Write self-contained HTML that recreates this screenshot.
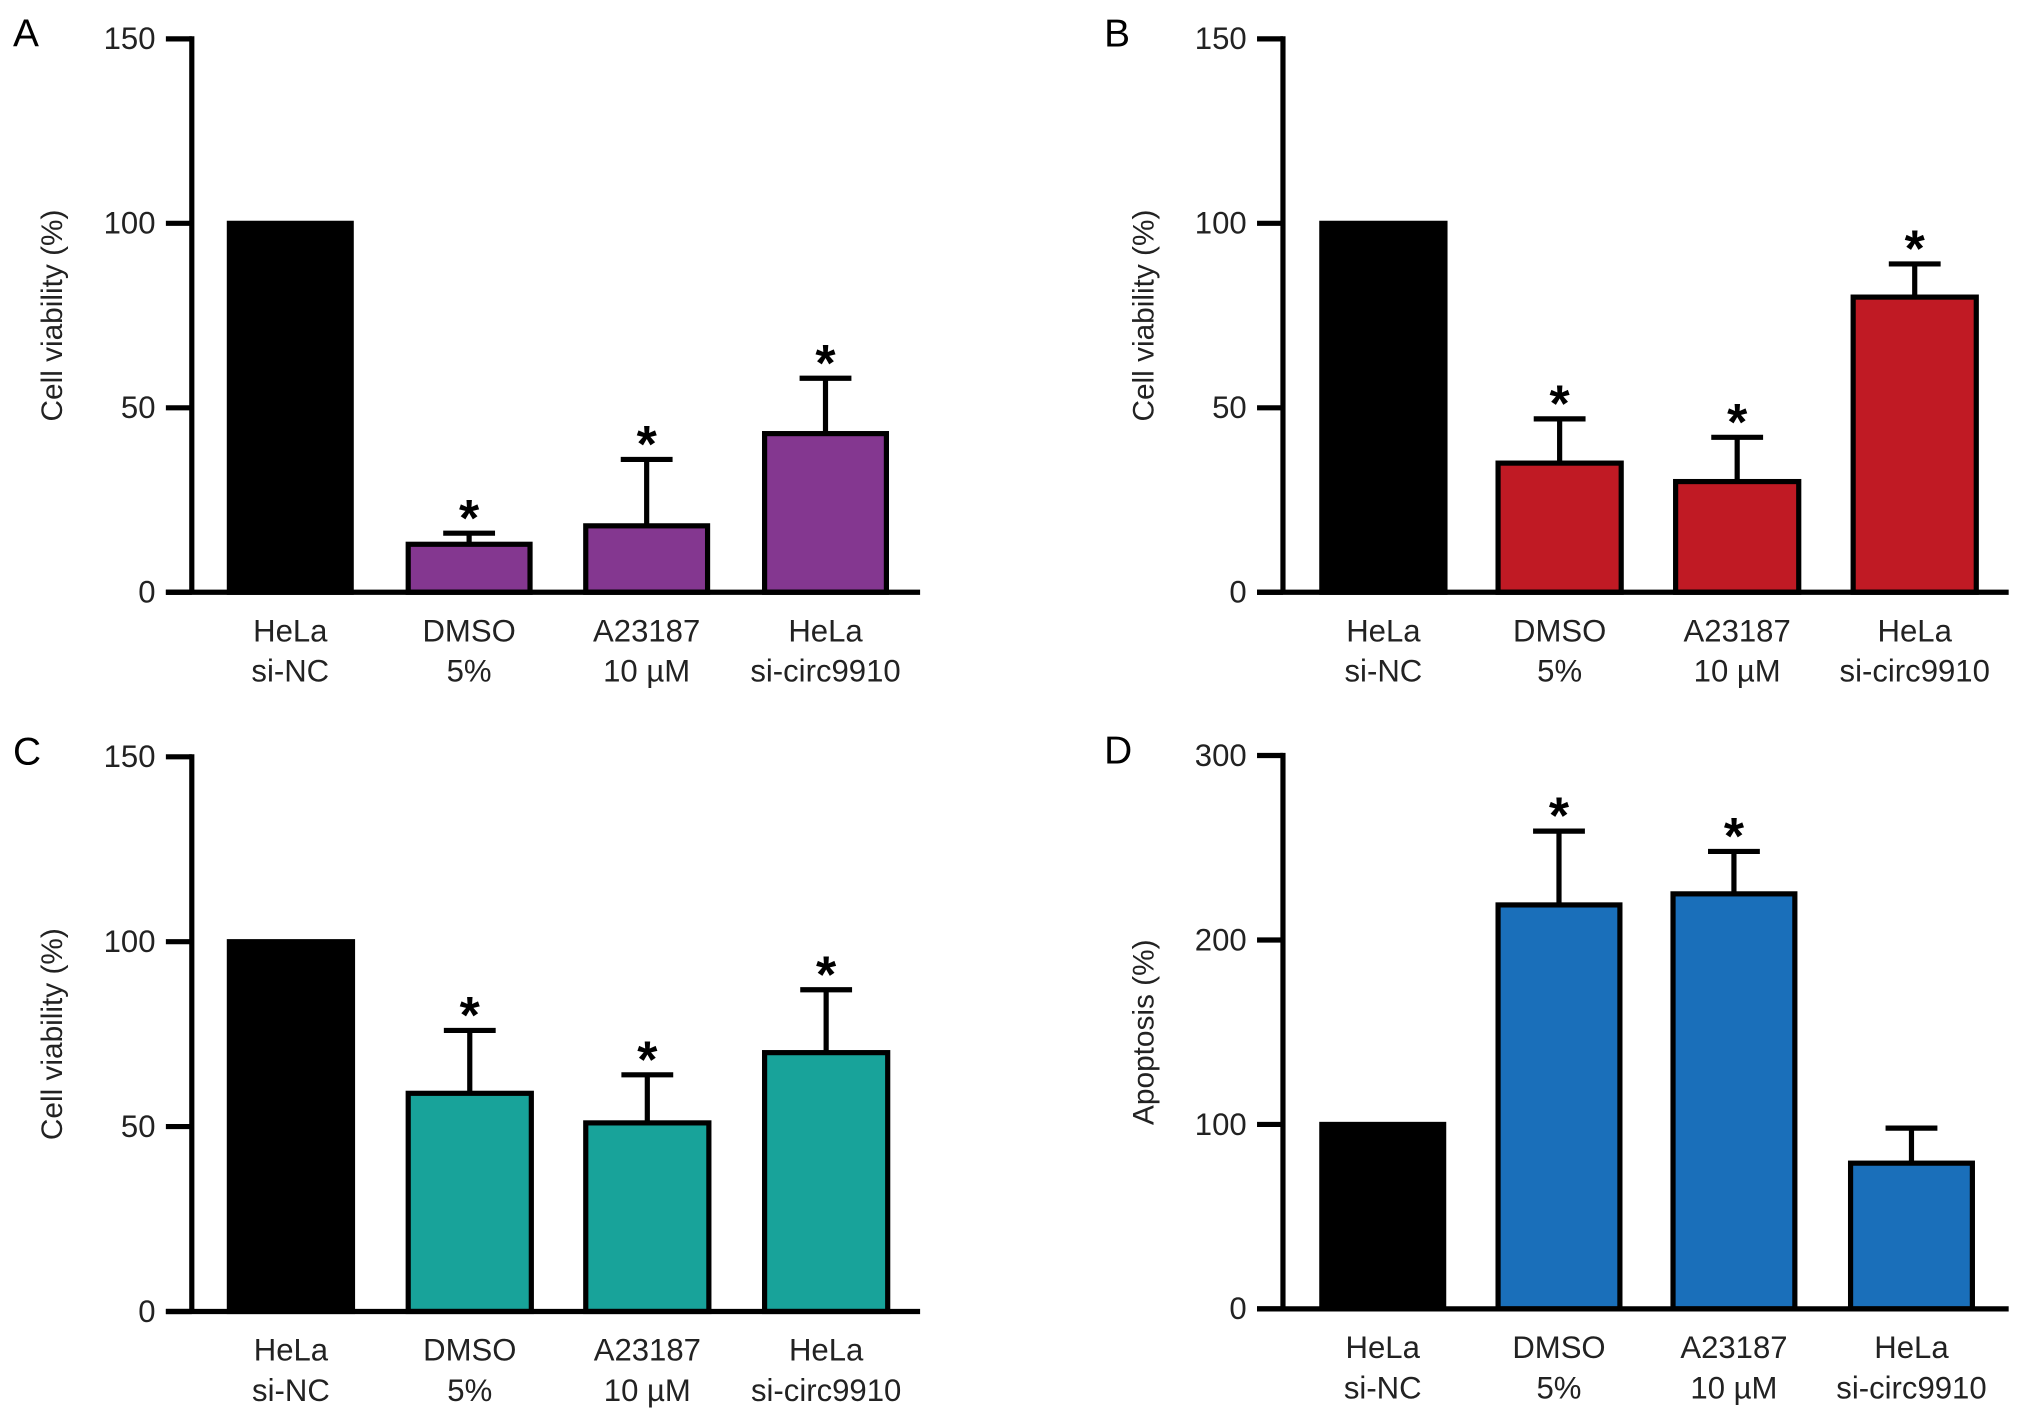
<!DOCTYPE html>
<html><head><meta charset="utf-8"><style>
html,body{margin:0;padding:0;background:#fff;}
svg{display:block;font-family:"Liberation Sans",Arial,sans-serif;}
</style></head><body>
<svg id="fig" width="2032" height="1418" viewBox="0 0 1568 1094.2" preserveAspectRatio="none" xmlns="http://www.w3.org/2000/svg"></svg>
<script>
const categories = [["HeLa","si-NC"],["DMSO","5%"],["A23187","10 \u00b5M"],["HeLa","si-circ9910"]];
const valuesA = [100, 13, 18, 43];
const errorsA = [null, 16, 36, 58];
const valuesB = [100, 35, 30, 80];
const errorsB = [null, 47, 42, 89];
const valuesC = [100, 59, 51, 70];
const errorsC = [null, 76, 64, 87];
const valuesD = [100, 219, 225, 79];
const errorsD = [null, 259, 248, 98];
const starsA = [false, true, true, true];
const starsB = [false, true, true, true];
const starsC = [false, true, true, true];
const starsD = [false, true, true, false];
const ticksViability = [0, 50, 100, 150];
const ticksApoptosis = [0, 100, 200, 300];

const NS = "http://www.w3.org/2000/svg";
const svg = document.getElementById("fig");
function mk(tag, attrs, parent){
  const e = document.createElementNS(NS, tag);
  for (const k in attrs) e.setAttribute(k, attrs[k]);
  (parent||svg).appendChild(e);
  return e;
}
function panel(cfg){
  const g = mk("g", {});
  
  
  const yMax = cfg.ticks[cfg.ticks.length-1];
  const y = v => cfg.y0 - (v / yMax) * (cfg.y0 - cfg.yTop);
  const lt = mk("text", {x: cfg.ax - 138, y: cfg.yTop + 6, "font-size": 30}, g);
  lt.textContent = cfg.letter;
  
  
  cfg.values.forEach((v, i) => {
    const bx = cfg.barX[i];
    const r = mk("rect", {x: bx, y: y(v), width: cfg.barW, height: cfg.y0 - y(v),
      fill: i === 0 ? "#000" : cfg.color, stroke: "#000", "stroke-width": 4}, g);
    
    
    const e = cfg.errors[i];
    const cx = bx + cfg.barW / 2;
    let top = y(v);
    if (e !== null) {
      const eb = mk("path", {d: `M${cx},${y(v)} V${y(e)} M${cx-20},${y(e)} H${cx+20}`, stroke: "#000", "stroke-width": 4, fill: "none"}, g);
      
      
      top = y(e);
    }
    if (cfg.stars[i]) {
      const s = mk("text", {x: cx, y: top + 2, "font-size": 40, "font-weight": "bold", "text-anchor": "middle"}, g);
      s.textContent = "*";
      
      
    }
    categories[i].forEach((ln, j) => {
      const t = mk("text", {x: cx, y: cfg.y0 + 38 + j * 31, "font-size": 24, "text-anchor": "middle", fill: "#222"}, g);
      t.textContent = ln;
      
      
    });
  });
  const ax = mk("path", {d: `M${cfg.ax},${cfg.yTop-2} V${cfg.y0} M${cfg.ax-20},${cfg.y0} H${cfg.xEnd}`, stroke: "#000", "stroke-width": 4, fill: "none"}, g);
  
  
  cfg.ticks.forEach(tv => {
    const tk = mk("line", {x1: cfg.ax - 20, x2: cfg.ax, y1: y(tv), y2: y(tv), stroke: "#000", "stroke-width": 4}, g);
    
    
    const tl = mk("text", {x: cfg.ax - 28, y: y(tv) + 8, "font-size": 24, "text-anchor": "end", fill: "#222"}, g);
    tl.textContent = tv;
    
    
  });
  const ty = (cfg.yTop + cfg.y0) / 2;
  const tt = mk("text", {x: cfg.ax - 100, y: ty, "font-size": 23, "text-anchor": "middle", fill: "#222",
    transform: `rotate(-90 ${cfg.ax - 100} ${ty})`}, g);
  tt.textContent = cfg.title;
  
  
}
panel({letter:"A", ax:148, yTop:30, y0:457, xEnd:710, barX:[177,315,452,590], barW:94, values:valuesA, errors:errorsA, stars:starsA, ticks:ticksViability, color:"#843790", title:"Cell viability (%)"});
panel({letter:"B", ax:990, yTop:30, y0:457, xEnd:1550, barX:[1020,1156,1293,1430], barW:95, values:valuesB, errors:errorsB, stars:starsB, ticks:ticksViability, color:"#c01a24", title:"Cell viability (%)"});
panel({letter:"C", ax:148, yTop:584, y0:1012, xEnd:710, barX:[177,315,452,590], barW:95, values:valuesC, errors:errorsC, stars:starsC, ticks:ticksViability, color:"#18a39a", title:"Cell viability (%)"});
panel({letter:"D", ax:990, yTop:583, y0:1010, xEnd:1550, barX:[1020,1156,1291,1428], barW:94, values:valuesD, errors:errorsD, stars:starsD, ticks:ticksApoptosis, color:"#1a6fba", title:"Apoptosis (%)"});
</script>
</body></html>
